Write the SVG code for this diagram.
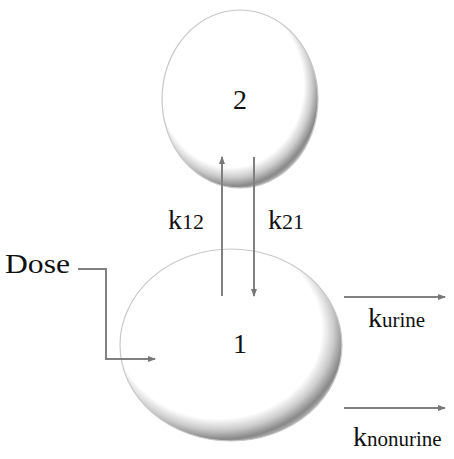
<svg xmlns="http://www.w3.org/2000/svg" width="454" height="459" viewBox="0 0 454 459">
<defs>
<radialGradient id="sh" cx="0.45" cy="0.43" r="0.58" fx="0.42" fy="0.38">
<stop offset="0" stop-color="#ffffff"/>
<stop offset="0.8" stop-color="#ffffff"/>
<stop offset="0.89" stop-color="#cccccc"/>
<stop offset="0.97" stop-color="#888888"/>
<stop offset="1" stop-color="#a8a8a8"/>
</radialGradient>
<marker id="ah" markerWidth="8" markerHeight="6" refX="7" refY="3" orient="auto" markerUnits="userSpaceOnUse">
<path d="M0,0 L8,3 L0,6 Z" fill="#777"/>
</marker>
<style>
.comp{fill:url(#sh);stroke:#c8c8c8;stroke-width:1.2}
.t{font-family:"Liberation Serif","Times New Roman",serif;fill:#111}
.ln{fill:none;stroke:#808080;stroke-width:2;marker-end:url(#ah)}
</style>
</defs>
<rect width="454" height="459" fill="#ffffff"/>
<g id="node2">
<ellipse class="comp" cx="240" cy="99" rx="78" ry="89"/>
<text class="t" x="240" y="109" font-size="28" text-anchor="middle">2</text>
</g>
<g id="node1">
<ellipse class="comp" cx="231" cy="345" rx="111" ry="96"/>
<text class="t" x="240" y="353" font-size="28" text-anchor="middle">1</text>
</g>
<g id="connectors">
<line class="ln" x1="222" y1="296" x2="222" y2="157"/>
<line class="ln" x1="254" y1="157" x2="254" y2="296"/>
<polyline class="ln" points="78,269 106,269 106,359 155,359"/>
<line class="ln" x1="344" y1="297" x2="445" y2="297"/>
<line class="ln" x1="344" y1="408" x2="445" y2="408"/>
</g>
<g id="labels">
<text class="t" x="5" y="273" font-size="28" textLength="65" lengthAdjust="spacingAndGlyphs">Dose</text>
<text class="t" x="168" y="229" font-size="28">k<tspan font-size="22">12</tspan></text>
<text class="t" x="268" y="229" font-size="28">k<tspan font-size="22">21</tspan></text>
<text class="t" x="368" y="327" font-size="28">k<tspan font-size="21">urine</tspan></text>
<text class="t" x="353" y="446" font-size="28">k<tspan font-size="21">nonurine</tspan></text>
</g>
</svg>
